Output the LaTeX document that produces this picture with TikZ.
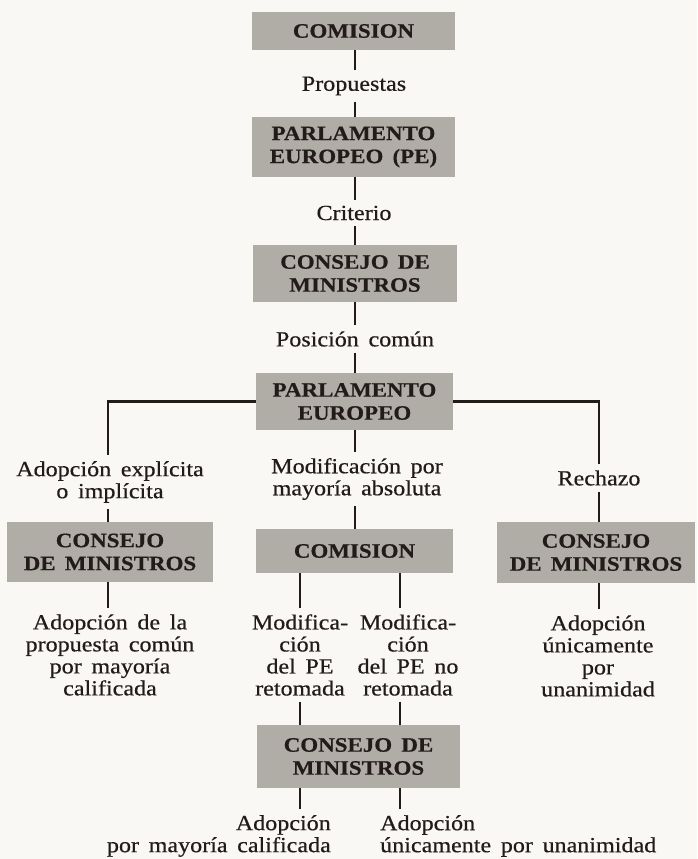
\documentclass[tikz,border=0pt]{standalone}
\usepackage{fontspec}
\setmainfont{Liberation Serif}[FakeStretch=1.12, WordSpace=1.6, FakeBold=0.5]
\definecolor{ink}{RGB}{34,27,25}
\definecolor{boxgray}{RGB}{176,172,166}
\definecolor{paper}{RGB}{250,248,244}
\begin{document}
\begin{tikzpicture}[x=1pt,y=-1pt,
  org/.style={fill=boxgray, text=ink, font=\fontsize{20.5}{23}\selectfont\bfseries, align=center, inner sep=0pt},
  lbl/.style={text=ink, font=\fontsize{21.5}{22}\selectfont, align=center, inner xsep=2pt, inner ysep=6pt},
  conn/.style={draw=ink, line width=2.6pt}]
\fill[paper] (0,0) rectangle (697,859);
\useasboundingbox (0,0) rectangle (697,859);
% x positions of vertical connectors
\coordinate (xm) at (355,0);
\coordinate (xL) at (108,0);
\coordinate (xR) at (599,0);
\coordinate (xa) at (300,0);
\coordinate (xb) at (400,0);
% boxes
\node[org, minimum width=203pt, minimum height=38pt] (c1) at (353.5,31) {COMISION};
\node[org, minimum width=203pt, minimum height=60pt] (pe1) at (353.5,147) {PARLAMENTO\\EUROPEO (PE)};
\node[org, minimum width=204pt, minimum height=57pt] (cm1) at (355,273.5) {CONSEJO DE\\MINISTROS};
\node[org, minimum width=197pt, minimum height=57pt] (pe2) at (354.5,401.5) {PARLAMENTO\\EUROPEO};
\node[org, minimum width=206pt, minimum height=60pt] (cmL) at (110,552) {CONSEJO\\DE MINISTROS};
\node[org, minimum width=197pt, minimum height=44pt] (c2) at (354.5,551) {COMISION};
\node[org, minimum width=198pt, minimum height=61pt] (cmR) at (596,552.5) {CONSEJO\\DE MINISTROS};
\node[org, minimum width=203pt, minimum height=63pt] (cm2) at (358.5,756.5) {CONSEJO DE\\MINISTROS};
% labels
\node[lbl] (l1) at (354,86) {Propuestas};
\node[lbl] (l2) at (354,213) {Criterio};
\node[lbl] (l3) at (355,339) {Posición común};
\node[lbl] (lL) at (110,482) {Adopción explícita\\o implícita};
\node[lbl] (lC) at (357,479) {Modificación por\\mayoría absoluta};
\node[lbl] (lR) at (599,478) {Rechazo};
\node[lbl] (aL) at (110,655) {Adopción de la\\propuesta común\\por mayoría\\calificada};
\node[lbl] (m1) at (300,655) {Modifica-\\ción\\del PE\\retomada};
\node[lbl] (m2) at (408,655) {Modifica-\\ción\\del PE no\\retomada};
\node[lbl] (aR) at (598,656) {Adopción\\únicamente\\por\\unanimidad};
\node[lbl, align=right, anchor=east] (bL) at (333,836) {Adopción\\por mayoría calificada};
\node[lbl, align=left, anchor=west] (bR) at (378,836) {Adopción\\únicamente por unanimidad};
% connectors
\draw[conn] (c1.south -| xm) -- (l1.north -| xm);
\draw[conn] (l1.south -| xm) -- (pe1.north -| xm);
\draw[conn] (pe1.south -| xm) -- (l2.north -| xm);
\draw[conn] (l2.south -| xm) -- (cm1.north -| xm);
\draw[conn] (cm1.south -| xm) -- (l3.north -| xm);
\draw[conn] (l3.south -| xm) -- (pe2.north -| xm);
\draw[conn] (pe2.west) -| (lL.north -| xL);
\draw[conn] (lL.south -| xL) -- (cmL.north -| xL);
\draw[conn] (pe2.south -| xm) -- (lC.north -| xm);
\draw[conn] (lC.south -| xm) -- (c2.north -| xm);
\draw[conn] (pe2.east) -| (lR.north -| xR);
\draw[conn] (lR.south -| xR) -- (cmR.north -| xR);
\draw[conn] (cmL.south -| xL) -- (aL.north -| xL);
\draw[conn] (c2.south -| xa) -- (m1.north -| xa);
\draw[conn] (c2.south -| xb) -- (m2.north -| xb);
\draw[conn] (cmR.south -| xR) -- (aR.north -| xR);
\draw[conn] (m1.south -| xa) -- (cm2.north -| xa);
\draw[conn] (m2.south -| xb) -- (cm2.north -| xb);
\draw[conn] (cm2.south -| xa) -- (bL.north -| xa);
\draw[conn] (cm2.south -| xb) -- (bR.north -| xb);
\end{tikzpicture}
\end{document}
